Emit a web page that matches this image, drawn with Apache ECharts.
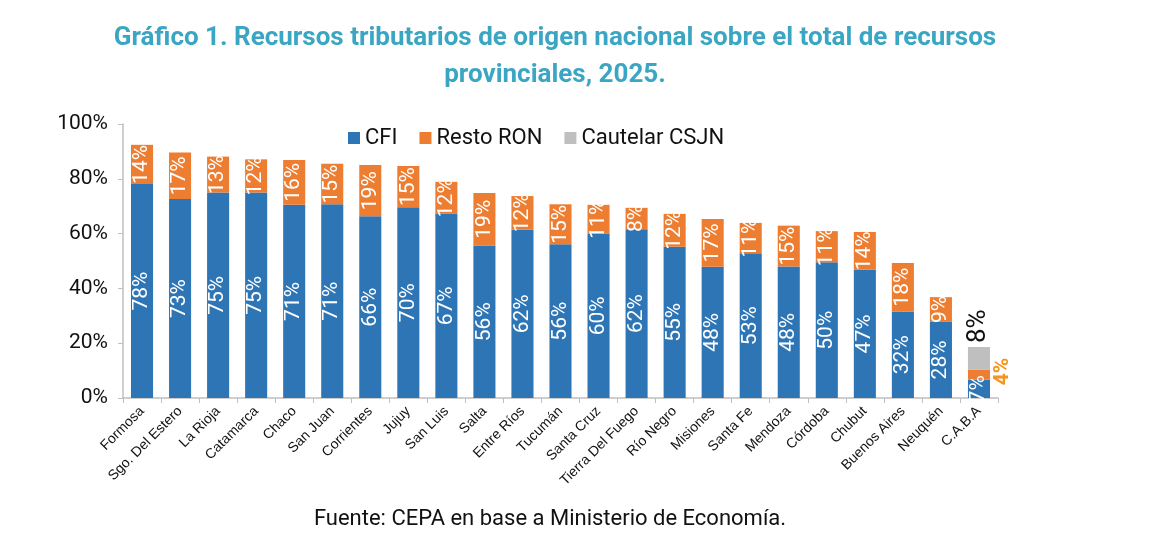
<!DOCTYPE html>
<html>
<head>
<meta charset="utf-8">
<script src="https://cdn.jsdelivr.net/npm/echarts@6/dist/echarts.min.js"></script>
<style>
  html, body { margin: 0; padding: 0; background: #fff; }
  #chart { width: 1170px; height: 549px; }
</style>
</head>
<body>
<div id="chart"></div>
<script>
var dom = document.getElementById("chart");
var myChart;

// provincias, ordenadas como en el gráfico
var provincias = ['Formosa', 'Sgo. Del Estero', 'La Rioja', 'Catamarca', 'Chaco', 'San Juan',
    'Corrientes', 'Jujuy', 'San Luis', 'Salta', 'Entre Ríos', 'Tucumán', 'Santa Cruz',
    'Tierra Del Fuego', 'Río Negro', 'Misiones', 'Santa Fe', 'Mendoza', 'Córdoba',
    'Chubut', 'Buenos Aires', 'Neuquén', 'C.A.B.A'];

// % sobre el total de recursos provinciales
var cfi = [78.1, 72.6, 75.0, 75.0, 70.5, 70.7, 66.3, 69.6, 67.3, 55.7, 61.5, 56.1, 60.0,
    61.6, 55.2, 47.9, 52.8, 48.0, 49.5, 46.8, 31.6, 27.8, 6.7];
var restoRon = [14.3, 17.0, 13.1, 12.1, 16.4, 14.8, 18.7, 15.1, 11.6, 19.1, 12.2, 14.6, 10.5,
    7.8, 12.0, 17.4, 11.1, 14.9, 11.4, 13.8, 17.7, 9.0, 3.7];
var cautelar = [null, null, null, null, null, null, null, null, null, null, null, null, null,
    null, null, null, null, null, null, null, null, null, 8.2];

var yTicks = ['0%', '20%', '40%', '60%', '80%', '100%'];

var blue = '#2E75B6';
var orange = '#ED7D31';
var gray = '#BFBFBF';

function pct(p) {
    return Math.round(p.value) + '%';
}

var insideLabel = {
    show: true,
    position: 'inside',
    rotate: 90,
    color: '#fff',
    fontFamily: 'Roboto',
    fontSize: 21,
    formatter: pct
};

// la última barra (C.A.B.A) lleva la etiqueta naranja afuera
var ronData = restoRon.map(function (v, i) {
    if (i === restoRon.length - 1) {
        return {
            value: v,
            label: {
                show: true,
                position: 'right',
                rotate: 90,
                color: '#F7941D',
                fontFamily: 'Roboto',
                fontWeight: 'bold',
                fontSize: 21,
                align: 'center',
                verticalAlign: 'middle',
                offset: [3, 8]
            }
        };
    }
    return v;
});

var option = {
    backgroundColor: '#fff',
    animation: false,
    title: [
        {
            text: 'Gráfico 1. Recursos tributarios de origen nacional sobre el total de recursos\nprovinciales, 2025.',
            left: 550,
            top: 15,
            textAlign: 'center',
            textStyle: {
                color: '#3AA6C4',
                fontFamily: 'Roboto',
                fontWeight: 'bold',
                fontSize: 26,
                lineHeight: 37
            }
        },
        {
            text: 'Fuente: CEPA en base a Ministerio de Economía.',
            left: 545,
            top: 503,
            textAlign: 'center',
            textStyle: {
                color: '#111',
                fontFamily: 'Roboto',
                fontWeight: 'normal',
                fontSize: 22
            }
        }
    ],
    legend: {
        top: 122,
        left: 343,
        itemWidth: 12,
        itemHeight: 12,
        itemGap: 22,
        icon: 'rect',
        textStyle: {
            fontFamily: 'Roboto',
            fontSize: 22,
            color: '#111'
        },
        data: ['CFI', 'Resto RON', 'Cautelar CSJN']
    },
    grid: {
        left: 123,
        right: 172,
        top: 124,
        bottom: 151,
        containLabel: false
    },
    xAxis: {
        type: 'category',
        data: provincias,
        axisLine: { lineStyle: { color: '#BFBFBF', width: 1.5 } },
        axisTick: { show: true, alignWithLabel: false, length: 5, lineStyle: { color: '#BFBFBF' } },
        axisLabel: {
            interval: 0,
            rotate: 45,
            margin: 11,
            color: '#111',
            fontFamily: 'Liberation Sans, Arial',
            fontSize: 14
        }
    },
    yAxis: {
        type: 'value',
        min: 0,
        max: 100,
        interval: 20,
        splitLine: { show: false },
        axisLine: { show: true, lineStyle: { color: '#BFBFBF', width: 1.5 } },
        axisTick: { show: true, length: 5, lineStyle: { color: '#BFBFBF' } },
        axisLabel: {
            margin: 15,
            color: '#111',
            fontFamily: 'Roboto',
            fontSize: 21,
            formatter: function (v) { return yTicks[v / 20]; }
        }
    },
    series: [
        {
            name: 'CFI',
            type: 'bar',
            stack: 'total',
            barWidth: '58%',
            itemStyle: { color: blue },
            label: insideLabel,
            data: cfi
        },
        {
            name: 'Resto RON',
            type: 'bar',
            stack: 'total',
            itemStyle: { color: orange },
            label: insideLabel,
            data: ronData
        },
        {
            name: 'Cautelar CSJN',
            type: 'bar',
            stack: 'total',
            itemStyle: { color: gray },
            label: {
                show: true,
                position: 'top',
                rotate: 90,
                align: 'left',
                verticalAlign: 'middle',
                distance: 4,
                color: '#111',
                fontFamily: 'Roboto',
                fontSize: 26,
                formatter: pct
            },
            data: cautelar
        }
    ]
};

myChart = echarts.init(dom);
if (option && typeof option === "object") {
    myChart.setOption(option, true);
}
</script>
</body>
</html>
